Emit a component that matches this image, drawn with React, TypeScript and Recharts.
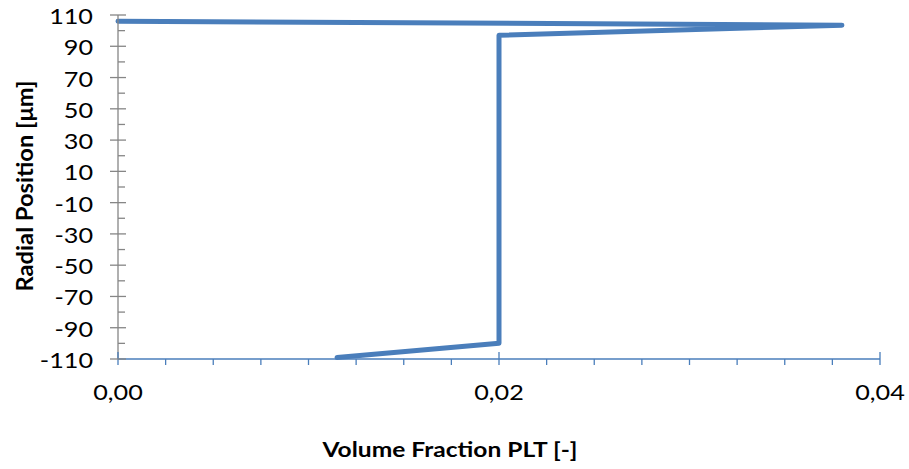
import { LineChart, Line, XAxis, YAxis, Customized } from 'recharts';

// profile points: volume fraction vs. radial position
const fraction = [0.0115, 0.02, 0.02, 0.038, 0];
const radial = [-109, -100, 97, 103.5, 106];

const xTicks = [0, 0.0025, 0.005, 0.0075, 0.01, 0.0125, 0.015, 0.0175, 0.02, 0.0225, 0.025, 0.0275, 0.03, 0.0325, 0.035, 0.0375, 0.04];
const xMajor = [0, 0.02, 0.04];
const yTicks = [-110, -100, -90, -80, -70, -60, -50, -40, -30, -20, -10, 0, 10, 20, 30, 40, 50, 60, 70, 80, 90, 100, 110];
const yMajor = [-110, -90, -70, -50, -30, -10, 10, 30, 50, 70, 90, 110];

const data = fraction.map((x, i) => ({ x, y: radial[i] }));

const FONT = 'Lato, "Open Sans", sans-serif';
const LINE = '#4A7EBB';
const GRAY = '#868686';

const isMajor = (list: number[], v: number) => list.some((m) => Math.abs(m - v) < 1e-9);

// tick labels are a bit wider than plain Lato
const Num = ({ x, y, anchor, children }: any) => (
  <text
    transform={`translate(${x},${y}) scale(1.2,1)`}
    textAnchor={anchor}
    fontSize={21}
    fontFamily={FONT}
    fill="#000"
  >
    {children}
  </text>
);

const YTick = ({ x, y, payload }: any) => {
  const major = isMajor(yMajor, payload.value);
  return (
    <g>
      <line x1={major ? x - 8 : x} x2={major ? x + 8 : x + 7} y1={y} y2={y} stroke={GRAY} strokeWidth={1.3} />
      {major && <Num x={x - 25} y={y + 9} anchor="end">{payload.value}</Num>}
    </g>
  );
};

const XTick = ({ x, y, payload }: any) => {
  const major = isMajor(xMajor, payload.value);
  return (
    <g>
      <line x1={x} x2={x} y1={major ? y - 7 : y} y2={y + 6} stroke={LINE} strokeWidth={1.3} />
      {major && (
        <Num x={x} y={y + 41} anchor="middle">
          {payload.value.toFixed(2).replace('.', ',')}
        </Num>
      )}
    </g>
  );
};

const Titles = () => (
  <g fontFamily={FONT} fontWeight="bold" fontSize={20} fill="#000">
    <text x={450} y={457} textAnchor="middle" textLength={255} lengthAdjust="spacingAndGlyphs">
      Volume Fraction PLT [-]
    </text>
    <text
      transform="translate(33,186) rotate(-90)"
      textAnchor="middle"
      fontSize={22}
      textLength={211}
      lengthAdjust="spacingAndGlyphs"
    >
      Radial Position [μm]
    </text>
  </g>
);

export default function App() {
  return (
    <div style={{ position: 'absolute', left: 0, top: 0, background: '#fff' }}>
      <LineChart width={909} height={469} data={data} margin={{ top: 15, right: 29, bottom: 0, left: 0 }}>
        <XAxis
          type="number"
          dataKey="x"
          domain={[0, 0.04]}
          ticks={xTicks}
          interval={0}
          height={110}
          tickSize={0}
          tickMargin={0}
          tickLine={false}
          axisLine={{ stroke: LINE, strokeWidth: 1.5 }}
          tick={<XTick />}
        />
        <YAxis
          type="number"
          domain={[-110, 110]}
          ticks={yTicks}
          interval={0}
          width={118}
          tickSize={0}
          tickMargin={0}
          tickLine={false}
          axisLine={{ stroke: GRAY, strokeWidth: 1.3 }}
          tick={<YTick />}
        />
        <Line
          dataKey="y"
          stroke={LINE}
          strokeWidth={5}
          strokeLinejoin="round"
          strokeLinecap="round"
          dot={false}
          isAnimationActive={false}
        />
        <Customized component={Titles} />
      </LineChart>
    </div>
  );
}
